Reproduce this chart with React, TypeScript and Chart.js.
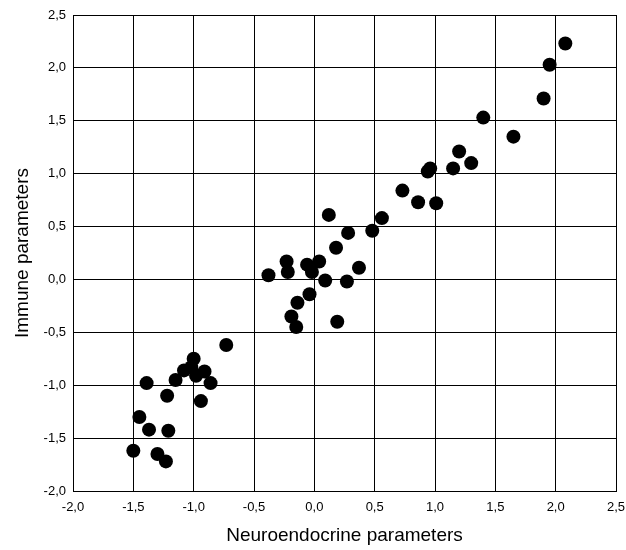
import React, { useEffect, useRef } from "react";
import { Chart, registerables } from "chart.js";

Chart.register(...registerables);

const xValues = [
  2.08, 1.95, 1.90, 1.40, 1.65, 1.20, 1.30, 1.15, 0.96, 0.94,
  0.73, 0.86, 1.01, 0.56, 0.48, 0.12, 0.28, 0.18, 0.37, -0.23,
  -0.22, -0.38, -0.06, 0.04, -0.02, 0.09, 0.27, -0.04, -0.14, -0.19,
  -0.15, 0.19, -0.73, -1.00, -1.08, -0.91, -0.98, -1.02, -0.86, -1.15,
  -1.39, -1.22, -0.94, -1.45, -1.37, -1.21, -1.50, -1.30, -1.23,
];
const yValues = [
  2.23, 2.03, 1.71, 1.53, 1.35, 1.21, 1.10, 1.05, 1.05, 1.02,
  0.84, 0.73, 0.72, 0.58, 0.46, 0.61, 0.44, 0.30, 0.11, 0.17,
  0.07, 0.04, 0.14, 0.17, 0.07, -0.01, -0.02, -0.14, -0.22, -0.35,
  -0.45, -0.40, -0.62, -0.75, -0.86, -0.87, -0.91, -0.83, -0.98, -0.95,
  -0.98, -1.10, -1.15, -1.30, -1.42, -1.43, -1.62, -1.65, -1.72,
];

const xTitle = "Neuroendocrine parameters";
const yTitle = "Immune parameters";
const axisMin = -2;
const axisMax = 2.5;
const axisStep = 0.5;

const FONT = "'Liberation Sans', Arial, sans-serif";

const fmt = (v: number | string) => Number(v).toFixed(1).replace(".", ",");

export default function App() {
  const ref = useRef<HTMLCanvasElement | null>(null);

  useEffect(() => {
    if (!ref.current) return;
    const points = xValues.map((x, i) => ({ x, y: yValues[i] }));
    const chart = new Chart(ref.current, {
      type: "scatter",
      data: {
        datasets: [
          {
            data: points,
            backgroundColor: "#000",
            borderColor: "#000",
            borderWidth: 0,
            pointRadius: 7,
            pointHoverRadius: 7,
          },
        ],
      },
      options: {
        responsive: false,
        animation: false,
        events: [],
        layout: { padding: { top: 15, right: 10, left: 0, bottom: 0 } },
        plugins: { legend: { display: false }, tooltip: { enabled: false } },
        scales: {
          x: {
            type: "linear",
            min: axisMin,
            max: axisMax,
            afterFit: (s: any) => {
              s.height = 59;
              s.paddingLeft = 0;
              s.paddingRight = 0;
            },
            ticks: {
              stepSize: axisStep,
              padding: 9,
              color: "#000",
              font: { family: FONT, size: 13 },
              callback: (v: any) => fmt(v),
              maxRotation: 0,
            },
            grid: { color: "#000", lineWidth: 1, drawTicks: false },
            border: { color: "#000", width: 1 },
            title: {
              display: true,
              text: xTitle,
              color: "#000",
              font: { family: FONT, size: 19 },
              padding: { top: 0, bottom: 3 },
            },
          },
          y: {
            type: "linear",
            min: axisMin,
            max: axisMax,
            afterFit: (s: any) => {
              s.width = 73;
              s.paddingTop = 0;
              s.paddingBottom = 0;
            },
            ticks: {
              stepSize: axisStep,
              padding: 7,
              color: "#000",
              font: { family: FONT, size: 13 },
              callback: (v: any) => fmt(v),
            },
            grid: { color: "#000", lineWidth: 1, drawTicks: false },
            border: { color: "#000", width: 1 },
            title: {
              display: true,
              text: yTitle,
              color: "#000",
              font: { family: FONT, size: 19 },
              padding: { top: 11, bottom: 0 },
            },
          },
        },
      },
    });
    return () => chart.destroy();
  }, []);

  return (
    <div style={{ position: "fixed", left: 0, top: 0, width: 626, height: 550, background: "#fff" }}>
      <canvas ref={ref} width={626} height={550} style={{ width: 626, height: 550, display: "block" }} />
    </div>
  );
}
